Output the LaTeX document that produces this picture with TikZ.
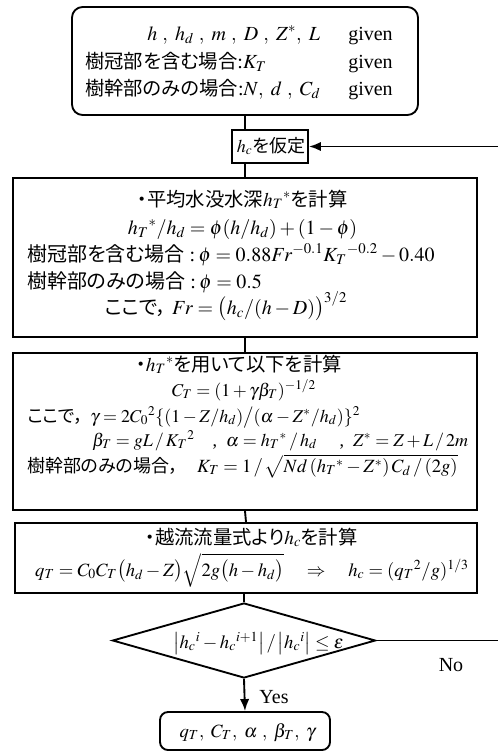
\documentclass[tikz,border=0pt]{standalone}
\usepackage{mathptmx}
\usepackage[no-math]{fontspec}
\setmainfont{Liberation Serif}
\newfontfamily\jp[RawFeature=+palt]{Noto Sans CJK JP}
\usetikzlibrary{shapes.geometric,arrows.meta}
\newdimen\px \px=0.75pt
\newcommand{\JP}[2]{{\fontsize{#1}{#1}\jp #2}}
\tikzset{
  box/.style={draw, line width=1.4pt, inner sep=0pt},
  txt/.style={inner sep=0pt, font=\fontsize{14}{16}\selectfont},
  fs/.style={font=\fontsize{#1}{#1}\selectfont},
  conn/.style={line width=1.4pt},
  arr/.style={line width=1.4pt, -{Latex[length=9pt,width=7pt]}},
}
\begin{document}
\begin{tikzpicture}[x=0.75pt,y=-0.75pt]
\fill[white] (0,0) rectangle (498,751);
\useasboundingbox (0,0) rectangle (498,751);
% boxes
\node[box, rounded corners=8pt, minimum width=346\px, minimum height=108\px] (b1) at (245,61) {};
\node[box, minimum width=76\px, minimum height=33\px] (b2) at (270,146.5) {};
\node[box, minimum width=464\px, minimum height=159\px] (b3) at (245,257.5) {};
\node[box, minimum width=464\px, minimum height=157\px] (b4) at (245,431.5) {};
\node[box, minimum width=462\px, minimum height=70\px] (b5) at (246,558) {};
\node[box, diamond, minimum width=263\px, minimum height=75\px] (dia) at (244,640.5) {};
\node[box, rounded corners=6pt, minimum width=170\px, minimum height=38\px] (fin) at (245,731) {};
% connectors
\draw[conn] (b1.south) -- (b1.south |- b2.north);
\draw[conn] (b3.north |- b2.south) -- (b3.north);
\draw[conn] (b3.south) -- (b4.north);
\draw[conn] (b4.south) -- (b5.north);
\draw[conn] (dia.north |- b5.south) -- (dia.north);
\draw[arr] (dia.south) -- (fin.north);
\draw[arr] (dia.east) -- ++(130,0) |- (b2.east);
% box 1 text
\node[txt, fs=15, anchor=base west] (t1a) at (147,40) {$h\ ,\ h_d\ ,\ m\ ,\ D\ ,\ Z^*,\ L$};
\node[txt, fs=15, anchor=base west] (g1) at (348,40) {given};
\node[txt, fs=15, anchor=base west] (t1b) at (85,68) {\JP{14.5}{樹冠部を含む場合}:$K_T$};
\node[txt, fs=15, anchor=base west] (g2) at (348,68) {given};
\node[txt, fs=15, anchor=base west] (t1c) at (85,95) {\JP{14.5}{樹幹部のみの場合}:$N,\ d\ ,\ C_d$};
\node[txt, fs=15, anchor=base west] (g3) at (348,95) {given};
% box 2 text
\node[txt, fs=13.5, anchor=base] (t2) at (271,152) {$h_c$\JP{13.5}{を仮定}};
% box 3 text
\node[txt, fs=14.5, anchor=base] (t3a) at (242.5,206) {\JP{14.5}{・平均水没水深}$h_T{}^*$\JP{14.5}{を計算}};
\node[txt, fs=15, anchor=base] (t3b) at (242.5,234) {$h_T{}^* / h_d = \phi(h/h_d) + (1-\phi)$};
\node[txt, fs=15, anchor=base west] (t3c) at (27,261) {\JP{15}{樹冠部を含む場合} :\,$\phi = 0.88 Fr^{-0.1} K_T{}^{-0.2} - 0.40$};
\node[txt, fs=15, anchor=base west] (t3d) at (27,288) {\JP{15}{樹幹部のみの場合} :\,$\phi = 0.5$};
\node[txt, fs=15, anchor=base] (t3e) at (226,314) {\JP{15}{ここで，}\ $Fr = \bigl(h_c/(h-D)\bigr)^{3/2}$};
% box 4 text
\node[txt, fs=14.5, anchor=base] (t4a) at (239,371) {\JP{14.5}{・}$h_T{}^*$\JP{14.5}{を用いて以下を計算}};
\node[txt, fs=13.5, anchor=base] (t4b) at (244,396) {$C_T = (1+\gamma\beta_T)^{-1/2}$};
\node[txt, fs=13.5, anchor=base west] (t4c) at (27,422) {\JP{13.5}{ここで，}};
\node[txt, fs=13.5, anchor=base west] (t4d) at (90,422) {$\gamma = 2C_0{}^2\{(1-Z/h_d)\big/(\alpha - Z^*/h_d)\}^2$};
\node[txt, fs=13.5, anchor=base west] (t4e) at (92,446) {$\beta_T = gL\,/\,K_T{}^2$\quad ,\ \ $\alpha = h_T{}^*\,/\,h_d$\quad\ ,\ \ $Z^* = Z + L\,/\,2m$};
\node[txt, fs=14, anchor=base west] (t4f) at (27,472) {\JP{13.5}{樹幹部のみの場合，}\quad $K_T = 1\,/\,\sqrt{Nd\,(h_T{}^*-Z^*)\,C_d\,/\,(2g)}$};
% box 5 text
\node[txt, fs=14.5, anchor=base] (t5a) at (251.5,544) {\JP{14.5}{・越流流量式より}$h_c$\JP{14.5}{を計算}};
\node[txt, fs=14, anchor=base] (t5b) at (252,576) {$q_T = C_0C_T\bigl(h_d-Z\bigr)\sqrt{2g\bigl(h-h_d\bigr)}\quad\Rightarrow\quad h_c = (q_T{}^2/g)^{1/3}$};
% diamond text
\node[txt, anchor=base] (td) at (258.5,648) {$\left|h_c{}^i - h_c{}^{i+1}\right| / \left|h_c{}^i\right| \le \varepsilon$};
\node[txt, fs=15, anchor=base] (no) at (451,671) {No};
\node[txt, fs=15, anchor=base] (yes) at (274,703) {Yes};
% final
\node[txt, anchor=base] (tf) at (247.5,737) {$q_T,\ C_T,\ \alpha\ ,\ \beta_T,\ \gamma$};
\end{tikzpicture}
\end{document}
